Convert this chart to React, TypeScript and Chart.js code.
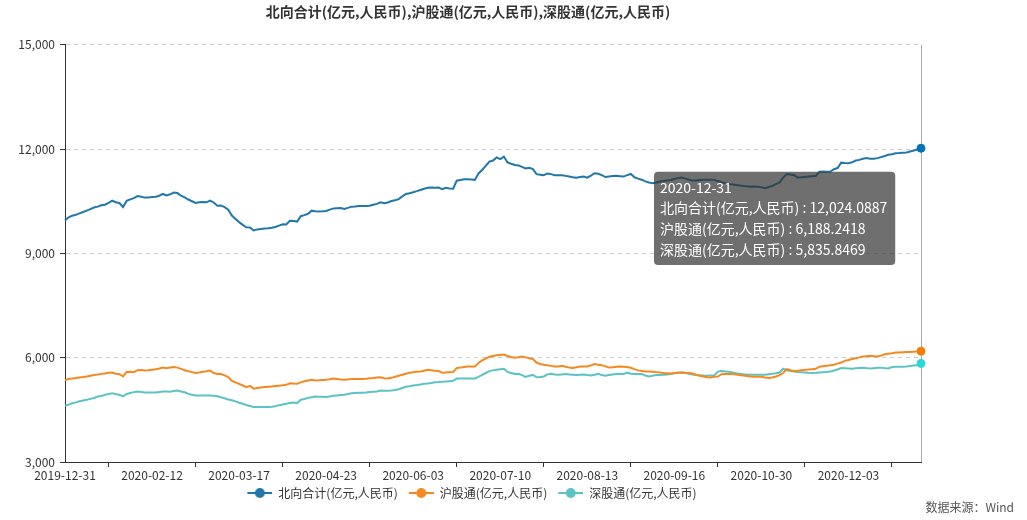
import React, { useEffect, useRef } from 'react';
import { Chart, registerables, Tooltip } from 'chart.js';

Chart.register(...registerables);

const FONT = '"Noto Sans CJK SC", "Noto Sans", sans-serif';

const TITLE = '北向合计(亿元,人民币),沪股通(亿元,人民币),深股通(亿元,人民币)';
const SERIES_NAMES = ['北向合计(亿元,人民币)', '沪股通(亿元,人民币)', '深股通(亿元,人民币)'];
const COLORS = ['#2277a9', '#f5891f', '#5cc2c3'];
const SOURCE = '数据来源：Wind';
const Y_MIN = 3000;
const Y_MAX = 15000;
const Y_STEP = 3000;
const LABEL_EVERY = 24;

// Stock Connect northbound trading-day calendar: weekdays from 2019-12-31 to 2020-12-31, minus closures
const START_DATE = '2019-12-31';
const END_DATE = '2020-12-31';
const CLOSED_DAYS = [
  '2020-01-01', '2020-01-24', '2020-01-27', '2020-01-28', '2020-01-29', '2020-01-30', '2020-01-31',
  '2020-04-06', '2020-04-10', '2020-04-13', '2020-04-29', '2020-04-30', '2020-05-01', '2020-05-04',
  '2020-05-05', '2020-06-25', '2020-06-26', '2020-07-01', '2020-09-30', '2020-10-01', '2020-10-02',
  '2020-10-05', '2020-10-06', '2020-10-07', '2020-10-08', '2020-10-26',
];

function buildDates(): string[] {
  const out: string[] = [];
  const closed = new Set(CLOSED_DAYS);
  const d = new Date(START_DATE + 'T00:00:00Z');
  const end = new Date(END_DATE + 'T00:00:00Z');
  while (d.getTime() <= end.getTime()) {
    const wd = d.getUTCDay();
    const s = d.toISOString().slice(0, 10);
    if (wd !== 0 && wd !== 6 && !closed.has(s)) out.push(s);
    d.setUTCDate(d.getUTCDate() + 1);
  }
  return out;
}
const DATES = buildDates();

const NORTH_TOTAL = [
  9950, 10040, 10085, 10110, 10150, 10190, 10230, 10275, 10320, 10345,
  10385, 10400, 10450, 10515, 10470, 10450, 10335, 10510, 10555, 10590,
  10650, 10630, 10605, 10610, 10620, 10630, 10660, 10710, 10670, 10700,
  10750, 10735, 10660, 10610, 10550, 10500, 10450, 10470, 10480, 10470,
  10520, 10465, 10370, 10380, 10330, 10255, 10090, 9990, 9900, 9820,
  9750, 9745, 9660, 9690, 9705, 9715, 9725, 9740, 9760, 9800,
  9840, 9830, 9940, 9930, 9915, 10070, 10100, 10140, 10230, 10215,
  10205, 10210, 10220, 10260, 10295, 10300, 10305, 10275, 10310, 10345,
  10350, 10360, 10365, 10365, 10370, 10400, 10425, 10470, 10445, 10465,
  10505, 10530, 10560, 10640, 10710, 10730, 10760, 10790, 10825, 10860,
  10890, 10895, 10890, 10895, 10850, 10885, 10870, 10860, 11090, 11110,
  11130, 11135, 11125, 11115, 11300, 11400, 11520, 11640, 11670, 11760,
  11710, 11785, 11620, 11580, 11545, 11530, 11490, 11445, 11460, 11425,
  11280, 11265, 11250, 11300, 11280, 11250, 11250, 11245, 11230, 11210,
  11190, 11175, 11195, 11210, 11180, 11240, 11305, 11290, 11250, 11195,
  11210, 11225, 11230, 11220, 11210, 11250, 11285, 11190, 11150, 11120,
  11070, 11040, 11020, 11040, 11065, 11080, 11095, 11110, 11140, 11165,
  11180, 11150, 11120, 11095, 11100, 11110, 11115, 11115, 11120, 11115,
  11080, 11050, 11020, 11000, 10985, 10970, 10955, 10940, 10930, 10920,
  10925, 10920, 10900, 10875, 10910, 10940, 10990, 11040, 11180, 11285,
  11270, 11250, 11185, 11190, 11200, 11210, 11220, 11230, 11350, 11355,
  11350, 11355, 11420, 11455, 11610, 11600, 11595, 11620, 11670, 11690,
  11720, 11740, 11720, 11725, 11740, 11770, 11800, 11835, 11850, 11880,
  11885, 11895, 11900, 11930, 11960, 11990, 12024.0887,
];

const SH_CONNECT = [
  5345, 5390, 5405, 5415, 5430, 5443, 5460, 5480, 5505, 5515,
  5535, 5545, 5565, 5575, 5540, 5525, 5460, 5590, 5595, 5585,
  5640, 5645, 5630, 5640, 5655, 5670, 5690, 5715, 5700, 5715,
  5730, 5715, 5680, 5640, 5610, 5585, 5560, 5575, 5595, 5610,
  5630, 5560, 5530, 5530, 5490, 5440, 5330, 5290, 5245, 5200,
  5155, 5190, 5110, 5130, 5145, 5155, 5165, 5175, 5185, 5195,
  5205, 5220, 5265, 5255, 5250, 5290, 5320, 5345, 5365, 5345,
  5350, 5360, 5365, 5380, 5400, 5390, 5370, 5365, 5375, 5385,
  5385, 5385, 5385, 5395, 5410, 5415, 5430, 5440, 5410, 5405,
  5420, 5450, 5480, 5510, 5540, 5570, 5580, 5595, 5605, 5625,
  5650, 5640, 5625, 5615, 5565, 5575, 5585, 5590, 5700, 5715,
  5735, 5745, 5750, 5745, 5850, 5920, 5975, 6030, 6050, 6070,
  6080, 6090, 6050, 6020, 6000, 6015, 6035, 6010, 5985, 5960,
  5860, 5820, 5795, 5780, 5765, 5750, 5745, 5765, 5740, 5715,
  5705, 5725, 5745, 5750, 5745, 5780, 5815, 5800, 5785, 5750,
  5715, 5725, 5740, 5745, 5740, 5730, 5710, 5670, 5635, 5620,
  5605, 5600, 5595, 5585, 5575, 5560, 5555, 5548, 5558, 5568,
  5575, 5570, 5560, 5545, 5510, 5480, 5460, 5440, 5432, 5455,
  5460, 5525, 5530, 5530, 5528, 5515, 5500, 5490, 5475, 5460,
  5452, 5450, 5452, 5430, 5414, 5430, 5460, 5500, 5560, 5670,
  5640, 5615, 5625, 5640, 5655, 5660, 5670, 5682, 5740, 5755,
  5765, 5780, 5800, 5830, 5860, 5910, 5935, 5960, 5985, 6010,
  6035, 6045, 6055, 6045, 6035, 6060, 6100, 6115, 6130, 6150,
  6152, 6158, 6162, 6166, 6170, 6175, 6188.2418,
];

const SZ_CONNECT = [
  4618, 4650, 4690, 4715, 4745, 4770, 4790, 4815, 4840, 4885,
  4900, 4930, 4955, 4980, 4950, 4935, 4885, 4955, 4985, 5010,
  5030, 5015, 5000, 5000, 5000, 5000, 5010, 5028, 5025, 5020,
  5045, 5058, 5030, 5005, 4960, 4935, 4915, 4915, 4915, 4914,
  4910, 4905, 4890, 4860, 4835, 4800, 4775, 4745, 4705, 4675,
  4640, 4610, 4580, 4580, 4580, 4580, 4582, 4589, 4605, 4635,
  4655, 4675, 4700, 4713, 4695, 4790, 4810, 4845, 4865, 4885,
  4880, 4875, 4867, 4885, 4905, 4914, 4925, 4934, 4955, 4980,
  4985, 4990, 4995, 5000, 5010, 5020, 5030, 5058, 5052, 5048,
  5055, 5070, 5095, 5130, 5165, 5180, 5200, 5213, 5230, 5250,
  5260, 5275, 5295, 5300, 5310, 5316, 5325, 5335, 5400, 5403,
  5405, 5403, 5400, 5403, 5450, 5505, 5560, 5614, 5635, 5655,
  5670, 5682, 5590, 5560, 5530, 5538, 5500, 5445, 5480, 5505,
  5435, 5445, 5460, 5520, 5538, 5515, 5510, 5520, 5529, 5520,
  5510, 5500, 5510, 5518, 5505, 5490, 5510, 5538, 5500, 5480,
  5500, 5515, 5529, 5530, 5529, 5575, 5540, 5530, 5529, 5529,
  5490, 5460, 5480, 5500, 5505, 5512, 5520, 5530, 5550, 5565,
  5575, 5560, 5535, 5518, 5505, 5495, 5485, 5480, 5485, 5489,
  5600, 5614, 5605, 5595, 5575, 5555, 5538, 5525, 5515, 5509,
  5509, 5508, 5509, 5512, 5525, 5538, 5550, 5575, 5682, 5640,
  5614, 5600, 5590, 5585, 5575, 5565, 5558, 5565, 5575, 5580,
  5587, 5600, 5630, 5660, 5702, 5695, 5688, 5682, 5695, 5705,
  5711, 5700, 5691, 5700, 5708, 5711, 5700, 5691, 5730, 5740,
  5738, 5740, 5745, 5760, 5777, 5790, 5835.8469,
];

const SERIES = [NORTH_TOTAL, SH_CONNECT, SZ_CONNECT];

// legend icon: 8px transparent lead-in (item spacing) + 25px line-with-dot marker
function makeLegendIcon(color: string): HTMLCanvasElement {
  const c = document.createElement('canvas');
  c.width = 33;
  c.height = 14;
  const g = c.getContext('2d')!;
  g.strokeStyle = color;
  g.lineWidth = 2;
  g.beginPath();
  g.moveTo(8, 7);
  g.lineTo(33, 7);
  g.stroke();
  g.fillStyle = color;
  g.beginPath();
  g.arc(20.5, 7, 5, 0, Math.PI * 2);
  g.fill();
  return c;
}

(Tooltip.positioners as any).fixedBox = function (this: any) {
  const ca = this.chart.chartArea;
  return { x: ca.right - 263, y: ca.top + 127 };
};

const overlayPlugin = {
  id: 'overlay',
  beforeDatasetsDraw(chart: any) {
    const meta = chart.getDatasetMeta(0);
    const pt = meta.data[meta.data.length - 1];
    if (!pt) return;
    const { top, bottom } = chart.chartArea;
    const ctx = chart.ctx;
    ctx.save();
    ctx.strokeStyle = '#aaaaaa';
    ctx.lineWidth = 1;
    const x = Math.round(pt.x) + 0.5;
    ctx.beginPath();
    ctx.moveTo(x, top);
    ctx.lineTo(x, bottom);
    ctx.stroke();
    ctx.restore();
  },
  afterDraw(chart: any) {
    const ctx = chart.ctx;
    ctx.save();
    ctx.font = `12px ${FONT}`;
    ctx.fillStyle = '#555555';
    ctx.textAlign = 'right';
    ctx.textBaseline = 'middle';
    ctx.fillText(SOURCE, 1014, 507);
    ctx.restore();
  },
};

export default function App() {
  const canvasRef = useRef<HTMLCanvasElement | null>(null);

  useEffect(() => {
    if (!canvasRef.current) return;
    const last = DATES.length - 1;
    const icons = COLORS.map(makeLegendIcon);

    const chart = new Chart(canvasRef.current, {
      type: 'line',
      data: {
        labels: DATES,
        datasets: SERIES.map((data, i) => ({
          label: SERIES_NAMES[i],
          data,
          borderColor: COLORS[i],
          backgroundColor: COLORS[i],
          borderWidth: 2,
          tension: 0,
          pointRadius: (c: any) => (c.dataIndex === last ? 4 : 0),
          pointHoverRadius: (c: any) => (c.dataIndex === last ? 4 : 0),
          pointBackgroundColor: COLORS[i],
          pointBorderColor: COLORS[i],
          pointBorderWidth: 1,
          pointHoverBorderWidth: 1,
        })),
      },
      options: {
        responsive: false,
        animation: false,
        devicePixelRatio: 1,
        events: [],
        layout: { padding: { left: 15, right: 106, top: 0, bottom: 11 } },
        font: { family: FONT },
        scales: {
          x: {
            type: 'category',
            offset: false,
            afterBuildTicks: (scale: any) => {
              scale.ticks = scale.ticks.filter((t: any) => t.value % LABEL_EVERY === 0);
            },
            afterFit: (scale: any) => {
              scale.height = 22;
            },
            ticks: {
              autoSkip: false,
              maxRotation: 0,
              minRotation: 0,
              padding: 1,
              color: '#333333',
              font: { size: 12, family: FONT },
            },
            grid: {
              offset: true,
              drawOnChartArea: false,
              drawTicks: true,
              tickLength: 5,
              tickColor: '#333333',
              color: '#333333',
            },
            border: { display: true, color: '#333333', width: 1 },
          },
          y: {
            min: Y_MIN,
            max: Y_MAX,
            afterFit: (scale: any) => {
              scale.width = 50;
            },
            ticks: {
              stepSize: Y_STEP,
              padding: 5,
              color: '#333333',
              font: { size: 12, family: FONT },
              callback: (v: any) => Number(v).toLocaleString('en-US'),
            },
            grid: {
              color: '#cccccc',
              drawTicks: true,
              tickLength: 5,
              tickColor: '#333333',
            },
            border: { display: true, color: '#333333', width: 1, dash: [4, 4] },
          },
        },
        plugins: {
          title: {
            display: true,
            text: TITLE,
            color: '#333333',
            font: { size: 14, weight: 'bold', family: FONT },
            padding: { top: 3, bottom: 25 },
          },
          legend: {
            display: true,
            position: 'bottom',
            labels: {
              usePointStyle: true,
              pointStyleWidth: 33,
              padding: 3,
              color: '#333333',
              font: { size: 12, family: FONT },
              generateLabels: (ch: any) =>
                Chart.defaults.plugins.legend.labels
                  .generateLabels(ch)
                  .map((l: any, i: number) => ({ ...l, pointStyle: icons[i] })),
            },
          },
          tooltip: {
            enabled: true,
            mode: 'index',
            intersect: false,
            position: 'fixedBox' as any,
            xAlign: 'left',
            yAlign: 'top',
            caretSize: 0,
            caretPadding: 0,
            cornerRadius: 4,
            displayColors: false,
            backgroundColor: 'rgba(50,50,50,0.7)',
            titleColor: '#ffffff',
            bodyColor: '#ffffff',
            titleFont: { size: 14, weight: 'normal', family: FONT },
            bodyFont: { size: 14, family: FONT },
            titleMarginBottom: 4,
            bodySpacing: 4,
            padding: { top: 7, bottom: 7, left: 6, right: 8 },
            callbacks: {
              title: (items: any[]) => (items.length ? items[0].label : ''),
              label: (c: any) =>
                `${c.dataset.label} : ${Number(c.parsed.y).toLocaleString('en-US', {
                  minimumFractionDigits: 4,
                  maximumFractionDigits: 4,
                })}`,
            },
          },
        },
      },
      plugins: [overlayPlugin],
    } as any);

    const act = SERIES.map((_, d) => ({ datasetIndex: d, index: last }));
    chart.setActiveElements(act);
    chart.tooltip?.setActiveElements(act, { x: 0, y: 0 });
    chart.update();

    return () => {
      chart.destroy();
    };
  }, []);

  return (
    <div style={{ position: 'fixed', left: 0, top: 0, width: 1027, height: 520, background: '#ffffff' }}>
      <canvas ref={canvasRef} width={1027} height={520} />
    </div>
  );
}
